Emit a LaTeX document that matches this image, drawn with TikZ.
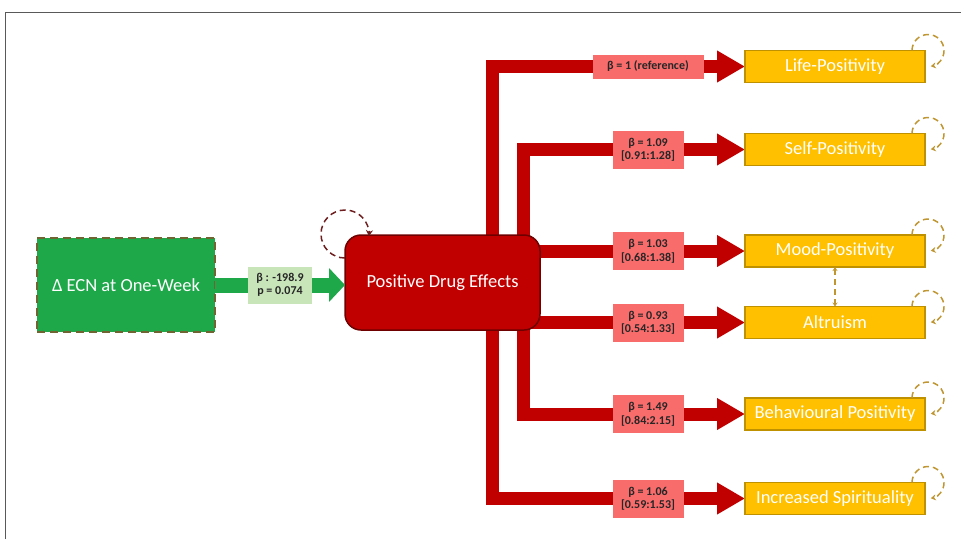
\documentclass[tikz,border=0pt]{standalone}
\usepackage{fontspec}
\setmainfont{Carlito}
\usetikzlibrary{arrows.meta,backgrounds}
\definecolor{ecngreen}{RGB}{30,168,74}
\definecolor{ecnedge}{RGB}{112,100,50}
\definecolor{lblgreen}{RGB}{200,228,185}
\definecolor{drugred}{RGB}{192,0,0}
\definecolor{drugedge}{RGB}{110,0,0}
\definecolor{lblred}{RGB}{248,108,108}
\definecolor{gold}{RGB}{255,192,0}
\definecolor{goldedge}{RGB}{191,144,0}
\definecolor{loopgold}{RGB}{191,150,50}
\definecolor{loopred}{RGB}{110,30,30}

\begin{document}
\begin{tikzpicture}[x=1pt,y=-1pt,
  box/.style={inner sep=0pt,outer sep=0pt,text=white,font=\fontsize{18.5}{22}\selectfont},
  outcome/.style={box,fill=gold,draw=goldedge,line width=1.5pt,minimum width=180,minimum height=32},
  redarrow/.style={draw=drugred,line width=13pt,-{Triangle[length=28pt,width=30pt]}},
  redlbl/.style={fill=lblred,inner sep=0pt,minimum width=71,minimum height=38,align=center,
    text=black!85,font=\bfseries\fontsize{12}{13.5}\selectfont},
  goldloop/.style={draw=loopgold,line width=1.5pt,dash pattern=on 6pt off 4pt,-{Stealth[length=5pt,width=6pt]}}]
  \useasboundingbox (0,0) rectangle (961,539);
  \draw[gray!70!black] (5,539) -- (5,12) -- (961,12);

  % boxes
  \node[box,fill=ecngreen,draw=ecnedge,line width=2.5pt,dash pattern=on 8pt off 5pt,
    minimum width=178,minimum height=94] (ecn) at (126,285) {Δ ECN at One-Week};
  \node[box,fill=drugred,draw=drugedge,line width=1.5pt,rounded corners=16,
    minimum width=195,minimum height=95] (pde) at (442.5,282.5) {Positive Drug Effects};
  \node[outcome] (life) at (835,66.5) {Life-Positivity};
  \node[outcome] (self) at (835,149.5) {Self-Positivity};
  \node[outcome] (mood) at (835,251) {Mood-Positivity};
  \node[outcome] (altr) at (835,322.5) {Altruism};
  \node[outcome] (behav) at (835,414) {Behavioural Positivity};
  \node[outcome] (spirit) at (835,498.5) {Increased Spirituality};

  \coordinate (outer) at (492.5,0);
  \coordinate (inner) at (523.5,0);

  % paths
  \begin{scope}[on background layer]
    \draw[redarrow] ([yshift=-8pt]pde.north -| outer) |- (life.west);
    \draw[redarrow] ([yshift=-8pt]pde.north -| inner) |- (self.west);
    \draw[redarrow] ([xshift=-10pt]pde.east |- mood.west) -- (mood.west);
    \draw[redarrow] ([xshift=-10pt]pde.east |- altr.west) -- (altr.west);
    \draw[redarrow] ([yshift=8pt]pde.south -| inner) |- (behav.west);
    \draw[redarrow] ([yshift=8pt]pde.south -| outer) |- (spirit.west);
  \end{scope}
  \draw[draw=ecngreen,line width=15pt,-{Triangle[length=16pt,width=33pt]}]
    (ecn.east) -- (ecn.east -| pde.west)
    node[midway,fill=lblgreen,inner sep=0pt,minimum width=64,minimum height=37,align=center,
      text=black!85,font=\bfseries\fontsize{12}{13.5}\selectfont] (ecnlbl) {β : -198.9\\p = 0.074};

  % labels
  \node[redlbl,minimum width=111,minimum height=24] (lifelbl) at (648,0 |- life) {β = 1 (reference)};
  \foreach \n/\b/\ci in {self/1.09/0.91:1.28,mood/1.03/0.68:1.38,altr/0.93/0.54:1.33,
      behav/1.49/0.84:2.15,spirit/1.06/0.59:1.53}
    \node[redlbl] (\n lbl) at (648,0 |- \n) {β = \b\\{}[\ci]};

  % loops
  \draw[draw=loopred,line width=1.5pt,dash pattern=on 6pt off 4pt,-{Stealth[length=6pt,width=7pt]}]
    ([yshift=-23pt]pde.north west) arc[start angle=90,end angle=365,radius=24];
  \foreach \n in {life,self,mood,altr,behav,spirit}
    \draw[goldloop] ([xshift=-13pt]\n.north east) arc[start angle=180,end angle=440,radius=16];
  \draw[goldloop,{Stealth[length=4pt,width=5pt]}-{Stealth[length=4pt,width=5pt]}] (mood) -- (altr);
\end{tikzpicture}
\end{document}
